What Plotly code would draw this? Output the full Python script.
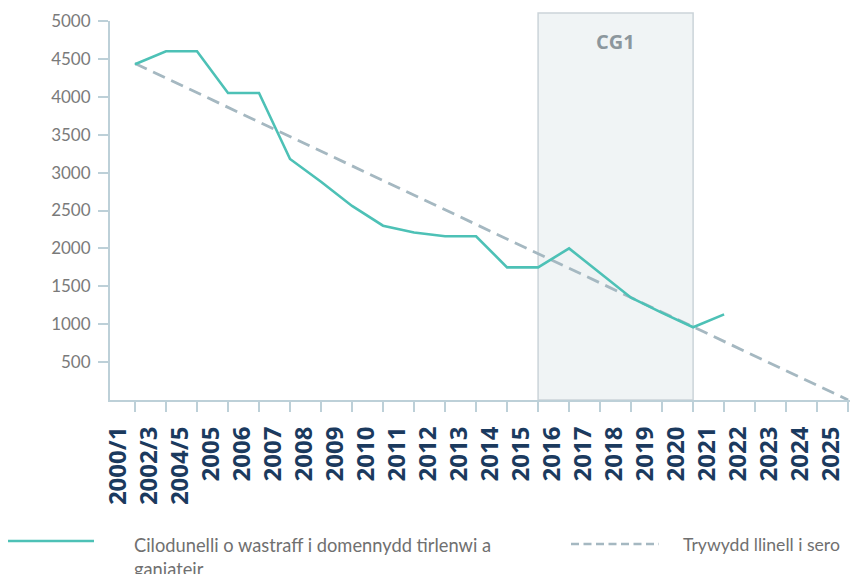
import plotly.graph_objects as go

# Reporting periods on the x axis
periods = ["2000/1", "2002/3", "2004/5", "2005", "2006", "2007", "2008", "2009",
           "2010", "2011", "2012", "2013", "2014", "2015", "2016", "2017",
           "2018", "2019", "2020", "2021", "2022", "2023", "2024", "2025"]

# Kilotonnes of waste to landfill permitted (2000/1 - 2021)
landfill_periods = periods[:20]
landfill_kt = [4430, 4600, 4600, 4050, 4050, 3180, 2880, 2560, 2300, 2210,
               2160, 2160, 1750, 1750, 2000, 1670, 1350, 1150, 960, 1130]

# Straight-line trajectory to zero
trajectory_periods = ["2000/1", "2025"]
trajectory_kt = [4440, 0]

# Carbon budget 1 period
cg1_label = "CG1"
cg1_start, cg1_end = "2015", "2020"

y_ticks = [500, 1000, 1500, 2000, 2500, 3000, 3500, 4000, 4500, 5000]

series_names = ["Cilodunelli o wastraff i domennydd tirlenwi a<br>ganiateir",
                "Trywydd llinell i sero"]

TEAL = "#4DC1B6"
DASH_GREY = "#A5B8C1"
AXIS = "#BDD0D8"

fig = go.Figure()

fig.add_trace(go.Scatter(
    x=trajectory_periods, y=trajectory_kt, mode="lines",
    line=dict(color=DASH_GREY, width=2.8, dash="13px,7px"),
    name=series_names[1], hoverinfo="skip"))

fig.add_trace(go.Scatter(
    x=landfill_periods, y=landfill_kt, mode="lines",
    line=dict(color=TEAL, width=2.6),
    name=series_names[0]))

# Shaded CG1 band (category axis positions are the period indices)
i0, i1 = periods.index(cg1_start), periods.index(cg1_end)
fig.add_shape(type="rect", xref="x", yref="paper",
              x0=i0, x1=i1, y0=0, y1=1.021,
              fillcolor="#F0F4F5", line=dict(color="#CBD4D9", width=1.5),
              layer="below")
fig.add_annotation(x=(i0 + i1) / 2, xref="x", y=0.945, yref="paper",
                   yanchor="middle", xanchor="center",
                   text=cg1_label, showarrow=False,
                   font=dict(family="Open Sans", size=20, color="#8C979D", weight="bold"))

# Hand-placed legend below the chart
PW, PH = 740, 379  # plot area size in px


def px_x(px):
    return (px - 110) / PW


def px_y(py):
    return (400 - py) / PH


fig.add_shape(type="line", xref="paper", yref="paper",
              x0=px_x(8), x1=px_x(94), y0=px_y(541), y1=px_y(541),
              line=dict(color=TEAL, width=2.6))
fig.add_shape(type="line", xref="paper", yref="paper",
              x0=px_x(571), x1=px_x(659), y0=px_y(544), y1=px_y(544),
              line=dict(color=DASH_GREY, width=2.6, dash="8px,4.5px"))
fig.add_annotation(x=px_x(132), y=px_y(532), xref="paper", yref="paper",
                   xanchor="left", yanchor="top", align="left",
                   text=series_names[0], showarrow=False,
                   font=dict(family="Lato", size=18.3, color="#707070"))
fig.add_annotation(x=px_x(681), y=px_y(532), xref="paper", yref="paper",
                   xanchor="left", yanchor="top", align="left",
                   text=series_names[1], showarrow=False,
                   font=dict(family="Lato", size=17.6, color="#707070"))

fig.update_xaxes(
    type="category", categoryorder="array", categoryarray=periods,
    range=[-0.806, 23.06],
    showline=True, linecolor=AXIS, linewidth=2,
    ticks="outside", ticklen=10, tickcolor=AXIS, tickwidth=2,
    tickangle=-90, ticklabelshift=-17, ticklabelstandoff=5,
    tickfont=dict(family="Open Sans", size=24, color="#1B3A5E", weight="bold"),
    showgrid=False, zeroline=False)

fig.update_yaxes(
    range=[0, 5000], tickmode="array", tickvals=y_ticks,
    showline=True, linecolor=AXIS, linewidth=2,
    ticks="outside", ticklen=10, tickcolor=AXIS, tickwidth=2,
    ticklabelstandoff=4,
    tickfont=dict(family="Lato", size=17, color="#7A7A7A"),
    showgrid=False, zeroline=False)

fig.update_layout(
    width=858, height=574,
    margin=dict(l=110, r=8, t=21, b=174),
    plot_bgcolor="rgba(0,0,0,0)", paper_bgcolor="white",
    showlegend=False)

fig.write_html("out.html")
